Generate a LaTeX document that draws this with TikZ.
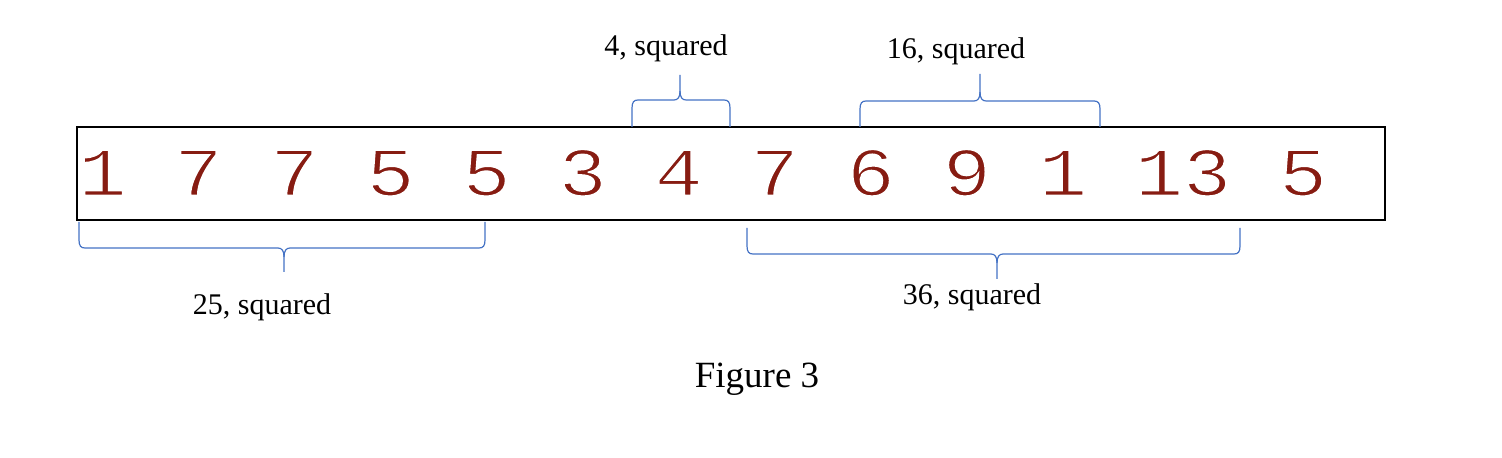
\documentclass[tikz,border=0pt]{standalone}
\usepackage{fontspec}
\setmainfont{Liberation Serif}
\newfontfamily\digitfont{Liberation Mono}[FakeStretch=1.16]
\definecolor{digitred}{RGB}{135,28,18}
\definecolor{braceblue}{RGB}{68,114,196}
\newcommand\thinglyphs[1]{\special{pdf:literal direct 1 1 1 RG 0.8 w 2 Tr}#1\special{pdf:literal direct 0 Tr}}
\tikzset{
  framebox/.style={draw=black, line width=1pt},
  wbrace/.style={draw=braceblue, line width=0.6pt, line join=round},
  lbl/.style={font=\fontsize{15pt}{18pt}\selectfont, inner sep=0pt, anchor=base},
}
% #1 x1, #2 x2, #3 xm, #4 y end, #5 y horizontal, #6 y tip, #7 direction (+1 down, -1 up)
\newcommand\wordbrace[7]{%
  \draw[wbrace] (#1,#4) -- (#1,{#5-8*#7}) .. controls (#1,{#5-2*#7}) and ({#1+2},#5) .. ({#1+6},#5)
    -- ({#3-6},#5) .. controls ({#3-2},#5) and (#3,{#5+3*#7}) .. (#3,{#5+9*#7}) -- (#3,#6);
  \draw[wbrace] (#3,{#5+9*#7}) .. controls (#3,{#5+3*#7}) and ({#3+2},#5) .. ({#3+6},#5)
    -- ({#2-6},#5) .. controls ({#2-2},#5) and (#2,{#5-2*#7}) .. (#2,{#5-8*#7}) -- (#2,#4);
}
\begin{document}
\begin{tikzpicture}[x=0.5pt, y=-0.5pt]
\useasboundingbox (0,0) rectangle (1502,458);
\draw[framebox] (77,127) rectangle (1385,220);
% braces
\wordbrace{632}{730}{680}{127}{100}{75}{-1}
\wordbrace{860}{1100}{980}{127}{101}{74}{-1}
\wordbrace{79}{485}{284}{222}{248}{272}{1}
\wordbrace{747}{1240}{997}{228}{254}{279}{1}
% labels
\node[lbl] (l4) at (666,56) {4, squared};
\node[lbl] (l16) at (956,59) {16, squared};
\node[lbl] (l25) at (262,315) {25, squared};
\node[lbl] (l36) at (972,305) {36, squared};
\node[inner sep=0pt, anchor=base, font=\fontsize{18.5pt}{22pt}\selectfont] (cap) at (757,387) {Figure 3};
\node[inner sep=0pt, anchor=base west, text=digitred, font=\digitfont\fontsize{34.5pt}{42pt}\selectfont] (digits) at (78,195.5) {\thinglyphs{1 7 7 5 5 3 4 7 6 9 1 13 5}};
\end{tikzpicture}
\end{document}
